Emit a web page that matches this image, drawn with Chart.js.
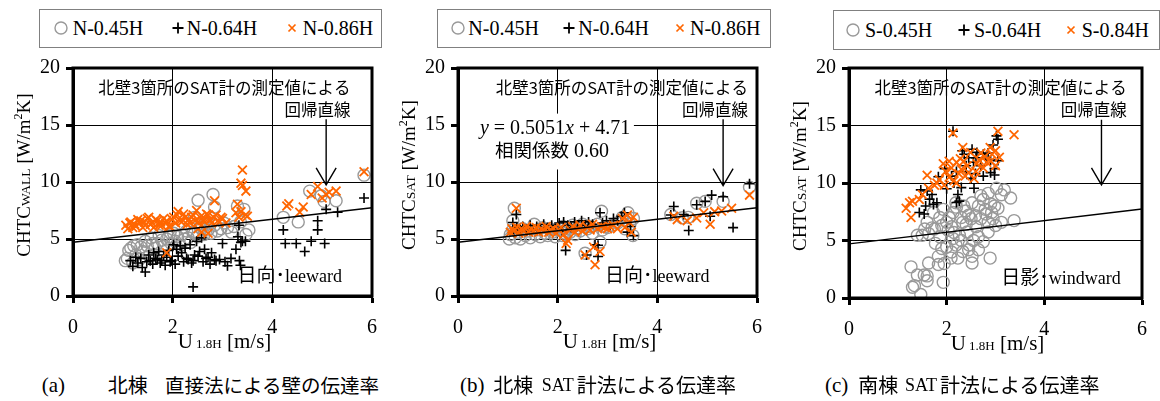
<!DOCTYPE html>
<html>
<head>
<meta charset="utf-8">
<script src="https://cdn.jsdelivr.net/npm/chart.js@4.4.1/dist/chart.umd.min.js"></script>
<style>
  body { margin: 0; width: 1160px; height: 401px; background: #fff; overflow: hidden; position: relative; }
  canvas { position: absolute; }
  .abs { position: absolute; white-space: nowrap; color: #000; }
  .legendBox { position: absolute; border: 1px solid #808080; box-sizing: border-box; }
  .serif { font-family: "Liberation Serif", "Times New Roman", serif; }
  .jp { font-family: "Noto Sans CJK JP", "Noto Sans", sans-serif; }
</style>
</head>
<body>
<script>
// ---- data ----
const xTickValues = [0, 2, 4, 6];
const yTickValues = [0, 5, 10, 15, 20];
const northSeries = ["N-0.45H", "N-0.64H", "N-0.86H"];
const southSeries = ["S-0.45H", "S-0.64H", "S-0.84H"];
// regression line y = 0.5051x + 4.71, end points
const lineX = [0, 6];
const lineY = [4.71, 7.74];

// (a) north, direct method
const aN045 = [[1.05,3.1],[1.09,3.3],[1.12,4.0],[1.16,4.2],[1.2,2.9],[1.22,4.4],[1.26,3.6],[1.29,4.5],[1.33,3.2],[1.36,4.3],[1.4,3.9],[1.45,4.8],[1.49,4.4],[1.53,3.5],[1.57,5.1],[1.6,4.6],[1.65,4.2],[1.69,4.6],[1.73,5.3],[1.78,4.9],[1.82,4.4],[1.88,5.0],[1.92,5.2],[1.97,4.6],[2.02,5.5],[2.05,4.8],[2.1,5.2],[2.15,4.4],[2.18,5.4],[2.24,5.0],[2.28,5.7],[2.31,5.1],[2.36,4.7],[2.41,5.6],[2.44,5.5],[2.5,5.2],[2.55,6.0],[2.58,5.9],[2.63,5.4],[2.68,6.3],[2.71,5.8],[2.77,5.5],[2.84,6.2],[2.9,5.7],[2.97,5.9],[3.03,6.4],[3.1,6.0],[3.18,5.6],[3.23,6.1],[3.3,7.9],[3.36,6.5],[3.43,7.6],[3.47,5.4],[3.53,5.8],[2.51,8.4],[2.81,8.9],[2.84,7.8],[2.44,6.9],[4.22,6.9],[4.52,6.5],[4.75,9.2],[4.98,8.8],[5.04,8.3],[5.28,8.35],[5.84,10.6]];
const aN064 = [[1.15,3.1],[1.2,2.6],[1.26,3.4],[1.3,2.9],[1.36,3.3],[1.39,2.5],[1.45,2.1],[1.48,3.0],[1.52,3.6],[1.55,3.1],[1.6,2.8],[1.62,3.8],[1.66,3.3],[1.69,3.2],[1.72,3.9],[1.75,2.9],[1.78,3.1],[1.82,3.6],[1.85,2.7],[1.88,3.4],[1.92,4.0],[1.95,3.0],[1.98,3.1],[2.02,4.5],[2.05,2.8],[2.08,4.1],[2.11,3.5],[2.15,4.4],[2.18,3.8],[2.22,3.0],[2.25,4.2],[2.28,3.3],[2.31,3.2],[2.35,4.5],[2.38,2.9],[2.41,3.1],[2.44,3.6],[2.48,4.8],[2.51,3.5],[2.54,3.9],[2.58,5.1],[2.61,3.0],[2.64,4.1],[2.67,3.3],[2.71,3.4],[2.75,2.8],[2.78,3.8],[2.84,3.2],[2.87,3.1],[2.94,3.2],[3.0,4.6],[3.05,3.0],[3.1,2.65],[3.17,3.3],[3.27,4.1],[3.31,5.2],[3.33,6.2],[3.34,3.1],[3.37,4.7],[3.4,4.8],[3.46,4.8],[3.36,2.7],[2.41,0.8],[4.26,4.6],[4.22,5.8],[4.48,4.6],[4.65,3.9],[4.78,4.8],[4.91,5.8],[4.91,6.6],[5.05,4.6],[5.08,7.6],[5.31,7.35],[5.84,8.6]];
const aN086 = [[1.06,6.2],[1.1,5.9],[1.14,6.4],[1.16,6.5],[1.2,6.0],[1.24,6.3],[1.26,6.1],[1.3,6.7],[1.34,6.4],[1.36,6.6],[1.4,6.0],[1.43,6.5],[1.45,6.2],[1.49,6.8],[1.52,6.9],[1.55,6.3],[1.59,6.4],[1.62,6.0],[1.66,6.7],[1.69,6.6],[1.73,6.2],[1.76,6.5],[1.78,6.2],[1.82,6.8],[1.86,6.4],[1.88,6.6],[1.92,6.1],[1.95,6.1],[1.99,6.7],[2.02,6.9],[2.06,6.4],[2.09,7.1],[2.11,7.4],[2.15,6.6],[2.18,6.5],[2.22,7.2],[2.25,6.9],[2.29,6.3],[2.32,6.7],[2.35,6.4],[2.38,6.9],[2.41,7.1],[2.45,6.6],[2.48,7.5],[2.51,6.5],[2.51,5.9],[2.55,6.9],[2.58,6.2],[2.58,5.6],[2.62,6.6],[2.64,6.8],[2.68,7.2],[2.71,7.1],[2.71,5.5],[2.75,6.7],[2.78,6.4],[2.82,6.9],[2.87,7.1],[2.84,8.35],[2.91,6.6],[2.94,6.5],[2.97,6.9],[3.0,6.8],[3.07,6.4],[3.27,7.3],[3.3,8.05],[3.33,6.9],[3.37,7.4],[3.4,11.05],[3.37,9.9],[3.4,9.7],[3.47,9.2],[3.46,7.1],[3.5,7.0],[1.88,3.8],[4.29,7.9],[4.33,8.1],[4.55,7.35],[4.62,7.8],[4.78,8.9],[4.91,9.6],[5.0,8.6],[5.08,8.9],[5.14,9.1],[5.28,9.2],[5.84,10.9]];

// (b) north, SAT meter method
const bN045 = [[1.03,5.0],[1.05,5.4],[1.1,6.6],[1.1,5.8],[1.13,7.7],[1.15,5.1],[1.2,5.6],[1.25,5.0],[1.3,5.9],[1.35,5.3],[1.4,5.7],[1.45,5.1],[1.53,6.3],[1.55,5.4],[1.6,5.8],[1.65,5.2],[1.7,6.0],[1.75,5.5],[1.8,5.3],[1.85,5.9],[1.9,5.6],[1.95,5.2],[2.0,5.8],[2.09,5.3],[2.1,6.1],[2.15,5.5],[2.2,5.9],[2.25,5.6],[2.3,6.2],[2.35,5.4],[2.4,6.0],[2.45,5.7],[2.5,6.3],[2.55,3.75],[2.6,5.9],[2.65,6.1],[2.7,5.5],[2.85,4.74],[2.8,6.3],[2.88,7.44],[2.9,5.8],[2.95,6.1],[3.0,6.0],[3.1,6.2],[3.2,6.4],[3.3,6.9],[3.35,5.9],[3.41,7.3],[3.45,6.3],[3.51,5.3],[3.52,6.8],[4.27,7.15],[4.5,6.87],[4.62,6.9],[4.79,8.14],[4.96,8.3],[5.32,8.3],[5.85,9.55]];
const bN064 = [[1.1,6.45],[1.17,7.15],[1.12,5.6],[1.18,6.0],[1.25,5.8],[1.3,6.1],[1.38,5.7],[1.45,6.2],[1.5,5.9],[1.58,6.1],[1.65,5.8],[1.72,6.3],[1.8,6.0],[1.88,6.2],[1.95,5.9],[2.03,6.4],[2.09,5.7],[2.16,4.0],[2.12,6.5],[2.2,6.2],[2.27,6.0],[2.34,6.5],[2.4,6.1],[2.48,6.6],[2.55,6.2],[2.58,3.6],[2.62,6.5],[2.7,6.3],[2.75,4.5],[2.81,4.45],[2.81,3.47],[2.85,7.3],[2.9,6.4],[2.98,6.6],[3.05,6.2],[3.12,6.8],[3.2,6.6],[3.28,7.0],[3.34,7.3],[3.4,5.6],[3.46,6.1],[3.52,5.3],[4.27,7.1],[4.33,7.85],[4.53,7.15],[4.63,5.75],[4.79,8.0],[4.96,8.3],[5.09,8.85],[5.32,8.7],[5.06,7.0],[5.52,6.0],[5.85,9.85]];
const bN086 = [[1.05,5.6],[1.08,5.9],[1.12,5.7],[1.17,7.7],[1.18,6.0],[1.22,5.5],[1.27,5.9],[1.32,5.7],[1.37,6.1],[1.42,5.6],[1.47,5.9],[1.52,5.7],[1.57,6.0],[1.62,5.6],[1.67,5.9],[1.72,5.7],[1.77,6.1],[1.82,5.6],[1.87,5.8],[1.92,5.9],[1.97,5.5],[2.02,5.8],[2.07,6.0],[2.12,5.4],[2.17,4.6],[2.2,4.9],[2.25,5.8],[2.3,6.1],[2.35,5.6],[2.4,5.9],[2.45,6.2],[2.5,5.7],[2.55,3.6],[2.6,6.0],[2.65,5.8],[2.7,6.3],[2.72,4.3],[2.75,2.75],[2.8,5.9],[2.85,3.9],[2.88,6.1],[2.95,6.0],[3.0,5.9],[3.05,6.1],[3.12,6.2],[3.2,5.9],[3.3,6.8],[3.35,6.0],[3.4,7.1],[3.44,6.45],[3.48,5.6],[3.52,6.9],[4.33,7.0],[4.4,6.7],[4.6,6.6],[4.79,6.85],[4.93,7.3],[5.06,6.3],[5.15,7.4],[5.29,7.45],[5.49,7.7],[5.85,8.85]];

// (c) south, SAT meter method
const cS045 = [[1.47,0.3],[1.3,0.93],[1.34,1.08],[1.6,1.5],[1.6,1.92],[1.4,2.0],[1.54,2.0],[1.27,2.71],[1.93,1.36],[1.63,3.05],[1.83,2.91],[1.83,3.62],[2.09,3.47],[2.23,3.47],[2.52,3.05],[2.89,3.47],[2.33,4.04],[2.0,4.46],[2.19,4.6],[2.46,4.6],[2.65,4.19],[2.52,3.62],[1.77,4.75],[1.5,5.46],[1.4,5.46],[1.63,5.6],[1.86,5.32],[2.03,5.88],[2.13,5.17],[2.26,5.46],[2.42,5.74],[2.65,5.32],[2.85,5.74],[1.6,6.58],[2.0,6.58],[2.33,6.58],[2.85,6.58],[3.12,6.58],[1.86,7.0],[1.73,7.43],[2.13,7.43],[2.39,7.57],[2.59,7.15],[2.92,7.43],[1.93,7.71],[2.79,7.71],[2.98,8.0],[2.19,8.28],[2.52,8.28],[2.75,8.56],[3.12,8.98],[3.02,9.55],[3.31,8.7],[3.38,6.73],[2.7,8.9],[2.3,7.0],[2.1,6.2],[2.5,6.9],[2.9,8.2],[1.95,3.0],[3.18,9.4],[1.7,6.1],[1.9,6.3],[2.05,7.0],[2.2,7.9],[2.35,8.0],[2.45,7.2],[2.6,6.2],[2.7,6.9],[2.8,7.3],[2.95,6.9],[3.05,7.8],[2.4,6.4],[2.15,5.7],[2.3,5.0],[2.55,5.0],[2.75,4.9],[1.9,4.3],[2.1,4.0],[2.45,4.2],[1.75,6.0],[2.65,8.0],[2.85,9.1],[3.0,6.3],[1.55,6.0]];
const cS064 = [[1.44,7.43],[1.54,7.3],[1.57,8.0],[1.73,8.14],[1.8,8.28],[1.47,9.4],[1.6,9.3],[1.83,10.54],[1.96,11.25],[2.1,10.6],[2.23,9.0],[2.26,8.42],[2.3,9.6],[2.2,11.0],[2.52,12.94],[2.62,12.66],[2.75,12.5],[3.05,13.8],[3.02,14.1],[3.05,11.95],[2.98,11.25],[2.98,10.7],[2.9,10.9],[2.59,10.82],[2.56,9.55],[2.75,10.6],[2.5,10.4],[2.36,12.5],[2.45,12.2],[2.32,12.8],[2.13,14.5],[1.7,9.0],[2.0,9.5],[2.15,10.0],[2.4,11.5],[2.85,12.6],[2.95,13.3],[1.65,8.6],[2.2,8.3],[2.4,11.0],[2.55,11.8],[2.7,11.5],[2.8,12.2],[2.9,12.0],[2.6,12.2]];
const cS084 = [[1.17,7.8],[1.24,8.28],[1.27,7.0],[1.3,8.42],[1.44,8.56],[1.5,9.0],[1.63,9.55],[1.6,10.68],[1.75,9.8],[1.85,10.3],[1.93,11.67],[1.98,11.0],[2.05,10.5],[2.1,11.3],[2.15,10.2],[2.2,11.8],[2.25,10.8],[2.3,11.2],[2.33,13.08],[2.38,10.6],[2.42,11.5],[2.49,12.66],[2.56,10.4],[2.62,11.67],[2.66,12.0],[2.75,11.3],[2.82,11.8],[2.89,13.08],[2.93,12.5],[3.0,12.8],[3.08,12.24],[3.05,14.5],[3.0,11.5],[3.38,14.2],[2.13,14.35],[2.7,12.6],[2.2,10.0],[1.95,9.8],[2.35,11.9],[2.45,10.9],[2.6,11.0],[2.78,12.3],[2.9,11.9],[1.8,10.0],[2.05,11.9],[2.28,12.1]];

// ---- look ----
const SERIF = '"Liberation Serif", "Times New Roman", serif';
const JP = '"Noto Sans CJK JP", "Noto Sans", sans-serif';
const GREY = "#999999", ORANGE = "#ff6600";
const markerStyles = [
  { pointStyle: "circle", pointRadius: 6, borderColor: GREY, borderWidth: 1.4, order: 3 },
  { pointStyle: "cross", pointRadius: 5, borderColor: "#000", borderWidth: 1.6, order: 2 },
  { pointStyle: "crossRot", pointRadius: 6.2, borderColor: ORANGE, borderWidth: 1.8, order: 1 }
];

const panels = [
  { key: "a", canvasLeft: 0, width: 390, padTop: 12, areaH: 234, padRight: 13,
    series: [aN045, aN064, aN086], names: northSeries, sub: "WALL",
    legend: { left: 39, top: 9, w: 343, h: 39, marks: [60.5, 177.5, 291.5], texts: [72.7, 186.7, 302.7], cy: 28 },
    note: { x: 5.57 }, arrow: { x: 5.08, top: 15.5, tip: 9.75 },
    side: { x: 3.3, y: 1.8, jp: "日向･", en: "leeward" },
    caption: [{ t: "(a)", l: 41.7, f: "serif", s: 21 }, { t: "北棟", l: 107.7, f: "jp", s: 20 }, { t: "直接法による壁の伝達率", l: 165, f: "jp", s: 19.5 }] },
  { key: "b", canvasLeft: 385, width: 390, padTop: 11, areaH: 235, padRight: 14,
    series: [bN045, bN064, bN086], names: northSeries, sub: "SAT",
    legend: { left: 436.7, top: 9, w: 334, h: 39, marks: [458, 569, 680], texts: [468.3, 578.3, 690], cy: 28 },
    note: { x: 5.82 }, arrow: { x: 5.32, top: 15.5, tip: 9.68 },
    side: { x: 2.95, y: 1.8, jp: "日向･", en: "leeward" },
    equation: { x: 0.44, y: 14.8 }, corr: { x: 0.74, y: 12.77 }, mask: { x1: 0, x2: 3.53, y1: 16.0, y2: 11.1 },
    caption: [{ t: "(b)", l: 460, f: "serif", s: 21 }, { t: "北棟", l: 493.3, f: "jp", s: 20 }, { t: "SAT", l: 541.7, f: "serif", s: 18 }, { t: "計法による伝達率", l: 576.7, f: "jp", s: 20 }] },
  { key: "c", canvasLeft: 776, width: 384, padTop: 12, areaH: 236, padRight: 7,
    series: [cS045, cS064, cS084], names: southSeries, sub: "SAT",
    legend: { left: 833, top: 10, w: 327, h: 40, marks: [852.5, 964, 1071], texts: [865, 974, 1081.7], cy: 30 },
    note: { x: 5.69 }, arrow: { x: 5.17, top: 15.5, tip: 9.83 },
    side: { x: 3.12, y: 1.8, jp: "日影･", en: "windward" },
    caption: [{ t: "(c)", l: 825, f: "serif", s: 21 }, { t: "南棟", l: 858.3, f: "jp", s: 20 }, { t: "SAT", l: 905, f: "serif", s: 18 }, { t: "計法による伝達率", l: 940, f: "jp", s: 20 }] }
];

const CANVAS_TOP = 50, CANVAS_H = 310;

function drawRuns(ctx, x, y, runs, align) {
  let w = 0;
  runs.forEach(r => { ctx.font = r.f; w += ctx.measureText(r.t).width; });
  let cx = align === "right" ? x - w : align === "center" ? x - w / 2 : x;
  ctx.textAlign = "left";
  ctx.textBaseline = "alphabetic";
  ctx.fillStyle = "#000";
  runs.forEach(r => {
    ctx.font = r.f;
    ctx.fillText(r.t, cx, y + (r.dy || 0));
    cx += ctx.measureText(r.t).width;
  });
}

function markerSvg(i) {
  if (i === 0) return '<svg width="16" height="16"><circle cx="8" cy="8" r="6" fill="none" stroke="' + GREY + '" stroke-width="1.4"/></svg>';
  if (i === 1) return '<svg width="16" height="16"><path d="M2.5 8H13.5M8 2.5V13.5" stroke="#000" stroke-width="1.8"/></svg>';
  return '<svg width="16" height="16"><path d="M4.5 4.5L11.5 11.5M11.5 4.5L4.5 11.5" stroke="' + ORANGE + '" stroke-width="1.7"/></svg>';
}

function addEl(html, cls, style) {
  const d = document.createElement("div");
  d.className = cls;
  d.innerHTML = html;
  Object.assign(d.style, style);
  document.body.appendChild(d);
  return d;
}

panels.forEach(p => {
  // legend in a framed box
  const lg = p.legend;
  addEl("", "legendBox", { left: lg.left + "px", top: lg.top + "px", width: lg.w + "px", height: lg.h + "px" });
  p.names.forEach((name, i) => {
    addEl(markerSvg(i), "abs", { left: (lg.marks[i] - 8) + "px", top: (lg.cy - 8) + "px", height: "16px" });
    addEl(name, "abs serif", { left: lg.texts[i] + "px", top: (lg.cy - 15) + "px", fontSize: "20px", lineHeight: "30px" });
  });
  // caption
  p.caption.forEach(c => {
    addEl(c.t, "abs " + c.f, { left: c.l + "px", top: "370px", fontSize: c.s + "px", lineHeight: "30px" });
  });

  const cv = document.createElement("canvas");
  cv.width = p.width;
  cv.height = CANVAS_H;
  cv.style.left = p.canvasLeft + "px";
  cv.style.top = CANVAS_TOP + "px";
  document.body.appendChild(cv);

  const datasets = p.series.map((arr, i) => Object.assign({
    label: p.names[i],
    data: arr.map(v => ({ x: v[0], y: v[1] })),
    backgroundColor: "transparent",
    pointHoverRadius: markerStyles[i].pointRadius
  }, markerStyles[i]));
  datasets.push({
    label: "regression",
    data: lineX.map((x, i) => ({ x: x, y: lineY[i] })),
    showLine: true, borderColor: "#000", borderWidth: 1.4, pointRadius: 0, order: 0
  });

  const deco = {
    id: "deco" + p.key,
    beforeDatasetsDraw(chart) {
      if (!p.mask) return;
      const { x, y } = chart.scales;
      const ctx = chart.ctx;
      ctx.save();
      ctx.fillStyle = "#fff";
      const x1 = x.getPixelForValue(p.mask.x1) + 2, x2 = x.getPixelForValue(p.mask.x2);
      const y1 = y.getPixelForValue(p.mask.y1), y2 = y.getPixelForValue(p.mask.y2);
      ctx.fillRect(x1, y1, x2 - x1, y2 - y1);
      ctx.restore();
    },
    afterDatasetsDraw(chart) {
      const { x, y } = chart.scales;
      const a = chart.chartArea;
      const ctx = chart.ctx;
      ctx.save();
      // thick frame
      ctx.strokeStyle = "#000";
      ctx.lineWidth = 3;
      ctx.strokeRect(a.left, a.top, a.right - a.left, a.bottom - a.top);

      // note about the regression line
      const nx = x.getPixelForValue(p.note.x);
      drawRuns(ctx, nx, a.top + 26, [{ t: "北壁3箇所のSAT計の測定値による", f: "16.5px " + JP }], "right");
      drawRuns(ctx, nx, a.top + 48, [{ t: "回帰直線", f: "16.5px " + JP }], "right");

      // arrow
      const ax = x.getPixelForValue(p.arrow.x);
      const ay1 = y.getPixelForValue(p.arrow.top), ay2 = y.getPixelForValue(p.arrow.tip);
      ctx.lineWidth = 1.4;
      ctx.beginPath();
      ctx.moveTo(ax, ay1);
      ctx.lineTo(ax, ay2);
      ctx.moveTo(ax - 10, ay2 - 17);
      ctx.lineTo(ax, ay2);
      ctx.lineTo(ax + 10, ay2 - 17);
      ctx.stroke();

      // sun / wind side label
      const sx = x.getPixelForValue(p.side.x), sy = y.getPixelForValue(p.side.y);
      drawRuns(ctx, sx, sy + 7, [{ t: p.side.jp, f: "19px " + JP }, { t: p.side.en, f: "18px " + SERIF }], "left");

      if (p.equation) {
        const ex = x.getPixelForValue(p.equation.x), ey = y.getPixelForValue(p.equation.y);
        drawRuns(ctx, ex, ey + 7, [
          { t: "y", f: "italic 20px " + SERIF }, { t: " = 0.5051", f: "20px " + SERIF },
          { t: "x", f: "italic 20px " + SERIF }, { t: " + 4.71", f: "20px " + SERIF }
        ], "left");
        const qx = x.getPixelForValue(p.corr.x), qy = y.getPixelForValue(p.corr.y);
        drawRuns(ctx, qx, qy + 7, [{ t: "相関係数", f: "18.5px " + JP }, { t: " 0.60", f: "20px " + SERIF }], "left");
      }

      // axis titles
      drawRuns(ctx, (a.left + a.right) / 2 + 2, a.bottom + 52, [
        { t: "U", f: "21px " + SERIF }, { t: " 1.8H", f: "13px " + SERIF }, { t: " [m/s]", f: "21px " + SERIF }
      ], "center");
      ctx.translate(23, (a.top + a.bottom) / 2 - 7);
      ctx.rotate(-Math.PI / 2);
      drawRuns(ctx, 0, 7, [
        { t: "CHTC", f: "19px " + SERIF }, { t: p.sub, f: "13.5px " + SERIF },
        { t: " [W/m", f: "19px " + SERIF }, { t: "2", f: "12px " + SERIF, dy: -8 }, { t: "K]", f: "19px " + SERIF }
      ], "center");
      ctx.restore();
    }
  };

  const xAxisH = CANVAS_H - p.padTop - p.areaH;
  new Chart(cv, {
    type: "scatter",
    data: { datasets: datasets },
    options: {
      responsive: false,
      animation: false,
      events: [],
      layout: { padding: { left: 0, right: p.padRight, top: p.padTop, bottom: 0 } },
      plugins: { legend: { display: false }, tooltip: { enabled: false } },
      scales: {
        x: {
          type: "linear", min: 0, max: 6,
          afterBuildTicks: s => { s.ticks = xTickValues.map(v => ({ value: v })); },
          afterFit: s => { s.height = xAxisH; },
          ticks: { color: "#000", padding: 13, font: { family: SERIF, size: 20 } },
          grid: { color: "#000", lineWidth: 1, tickColor: "#000", tickWidth: 3, tickLength: 7 },
          border: { display: true, color: "#000", width: 3 }
        },
        y: {
          type: "linear", min: 0, max: 20,
          afterBuildTicks: s => { s.ticks = yTickValues.map(v => ({ value: v })); },
          afterFit: s => { s.width = 73; },
          ticks: { color: "#000", padding: 6, font: { family: SERIF, size: 20 } },
          grid: { color: "#000", lineWidth: 1, tickColor: "#000", tickWidth: 3, tickLength: 7 },
          border: { display: true, color: "#000", width: 3 }
        }
      }
    },
    plugins: [deco]
  });
});
</script>
</body>
</html>
